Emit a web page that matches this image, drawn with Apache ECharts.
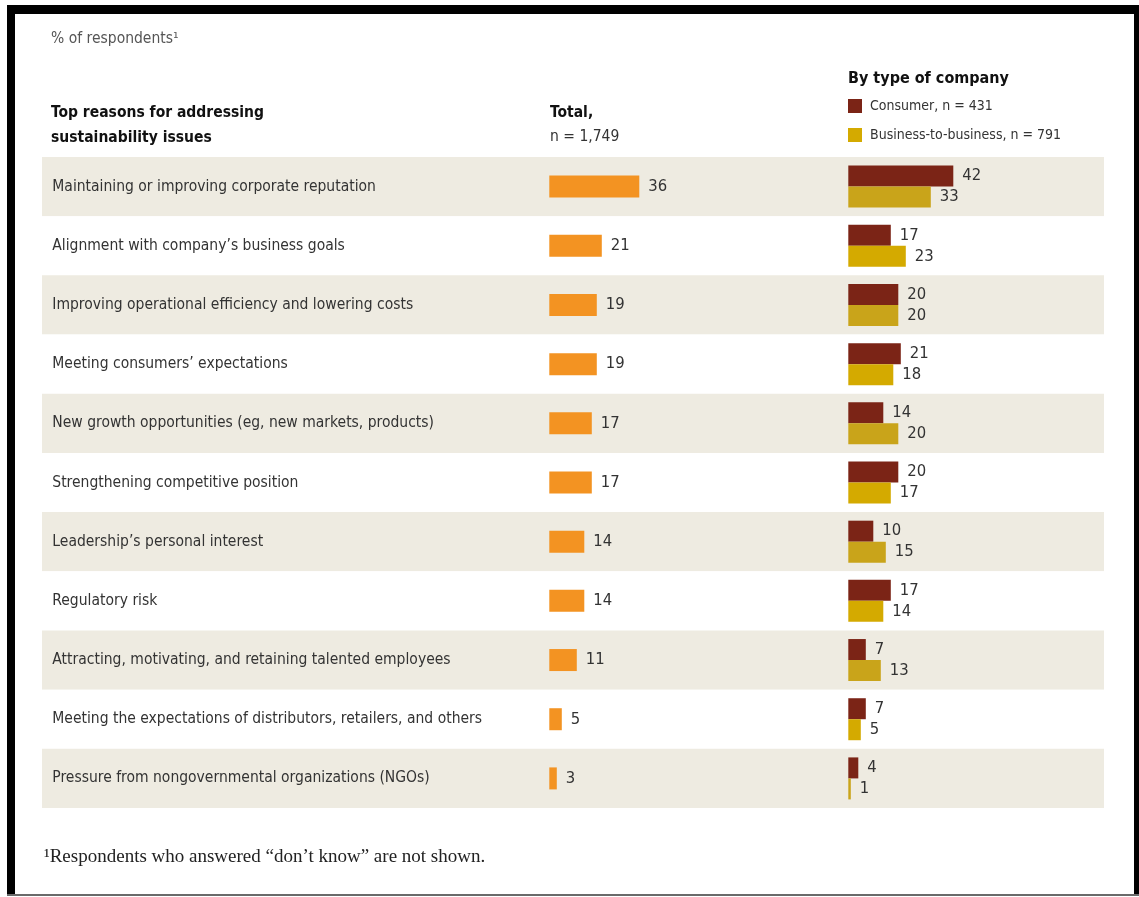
<!DOCTYPE html>
<html>
<head>
<meta charset="utf-8">
<script src="https://cdn.jsdelivr.net/npm/echarts@6/dist/echarts.min.js"></script>
<style>
html,body{margin:0;padding:0;background:#fff;}
#c{width:1139px;height:897px;}
</style>
</head>
<body>
<div id="c"></div>
<script>
const categories = [
  'Maintaining or improving corporate reputation',
  'Alignment with company\u2019s business goals',
  'Improving operational efficiency and lowering costs',
  'Meeting consumers\u2019 expectations',
  'New growth opportunities (eg, new markets, products)',
  'Strengthening competitive position',
  'Leadership\u2019s personal interest',
  'Regulatory risk',
  'Attracting, motivating, and retaining talented employees',
  'Meeting the expectations of distributors, retailers, and others',
  'Pressure from nongovernmental organizations (NGOs)'
];
const totalValues = [36, 21, 19, 19, 17, 17, 14, 14, 11, 5, 3];
const consumerValues = [42, 17, 20, 21, 14, 20, 10, 17, 7, 7, 4];
const b2bValues = [33, 23, 20, 18, 20, 17, 15, 14, 13, 5, 1];
const seriesNames = ['Consumer, n = 431', 'Business-to-business, n = 791'];

const FONT = '"DejaVu Sans Condensed", "Liberation Sans Narrow", "Liberation Sans", sans-serif';
const TOP = 157, H = 651;

const chart = echarts.init(document.getElementById('c'), null, {renderer: 'canvas'});

const hiddenX = (gi) => ({type: 'value', gridIndex: gi, min: 0, max: 100, show: false});
const catY = (gi, extra) => Object.assign({
  type: 'category', gridIndex: gi, data: categories, inverse: true,
  axisLine: {show: false}, axisTick: {show: false}, axisLabel: {show: false},
  splitLine: {show: false}
}, extra || {});

const valLabel = {
  show: true, position: 'right', distance: 9,
  fontFamily: FONT, fontSize: 16.5, color: '#333'
};

chart.setOption({
  animation: false,
  textStyle: {fontFamily: FONT},
  title: [
    {text: '% of respondents\u00b9', left: 51, top: 31, padding: 0,
     textStyle: {fontFamily: FONT, fontSize: 15.5, fontWeight: 'normal', color: '#555'}},
    {text: 'Top reasons for addressing\nsustainability issues', left: 51, top: 100, padding: 0,
     textStyle: {fontFamily: FONT, fontSize: 15.5, fontWeight: 'bold', color: '#111', lineHeight: 25}},
    {text: 'Total,', left: 550, top: 100, padding: 0,
     textStyle: {fontFamily: FONT, fontSize: 15.5, fontWeight: 'bold', color: '#111', lineHeight: 25}},
    {text: 'n = 1,749', left: 550, top: 124, padding: 0,
     textStyle: {fontFamily: FONT, fontSize: 15.5, fontWeight: 'normal', color: '#333', lineHeight: 25}},
    {text: 'By type of company', left: 848, top: 66, padding: 0,
     textStyle: {fontFamily: FONT, fontSize: 16, fontWeight: 'bold', color: '#111', lineHeight: 25}},
    {text: '\u00b9Respondents who answered \u201cdon\u2019t know\u201d are not shown.', left: 44, top: 848, padding: 0,
     textStyle: {fontFamily: '"Liberation Serif", "DejaVu Serif", serif', fontSize: 19, fontWeight: 'normal', color: '#222'}}
  ],
  legend: {
    data: seriesNames, orient: 'vertical', left: 848, top: 99, padding: 0,
    itemWidth: 14, itemHeight: 14, itemGap: 15, icon: 'rect',
    textStyle: {fontFamily: FONT, fontSize: 14, color: '#333', padding: [0, 0, 0, 3]},
    selectedMode: false
  },
  graphic: [
    {type: 'rect', shape: {x: 7, y: 5, width: 1132, height: 9}, style: {fill: '#000'}, silent: true},
    {type: 'rect', shape: {x: 7, y: 5, width: 8, height: 891}, style: {fill: '#000'}, silent: true},
    {type: 'rect', shape: {x: 1134, y: 5, width: 5, height: 890}, style: {fill: '#000'}, silent: true},
    {type: 'rect', shape: {x: 7, y: 894, width: 1132, height: 2}, style: {fill: '#6a6a6a'}, silent: true}
  ],
  grid: [
    {left: 42, right: 35, top: TOP, height: H},
    {left: 549.3, width: 250, top: TOP, height: H},
    {left: 848.3, width: 250, top: TOP, height: H}
  ],
  xAxis: [hiddenX(0), hiddenX(1), hiddenX(2)],
  yAxis: [
    catY(0, {splitArea: {show: true, areaStyle: {color: ['#eeebe1', '#ffffff']}}}),
    catY(1, {axisLabel: {show: true, align: 'left', margin: 497, fontFamily: FONT, fontSize: 15.5, color: '#333'}}),
    catY(2)
  ],
  series: [
    {type: 'bar', name: 'Total', xAxisIndex: 1, yAxisIndex: 1, data: totalValues,
     barWidth: 22, itemStyle: {color: '#f39322'}, label: valLabel},
    {type: 'bar', name: seriesNames[0], xAxisIndex: 2, yAxisIndex: 2, data: consumerValues,
     barWidth: 21, barGap: '0%', itemStyle: {color: '#7b2416'}, label: valLabel},
    {type: 'bar', name: seriesNames[1], xAxisIndex: 2, yAxisIndex: 2,
     data: b2bValues.map((v, i) => ({value: v, itemStyle: {color: i % 2 === 0 ? '#c9a41a' : '#d4aa00'}})),
     barWidth: 21, barGap: '0%', itemStyle: {color: '#d4aa00'}, label: valLabel}
  ]
});
</script>
</body>
</html>
